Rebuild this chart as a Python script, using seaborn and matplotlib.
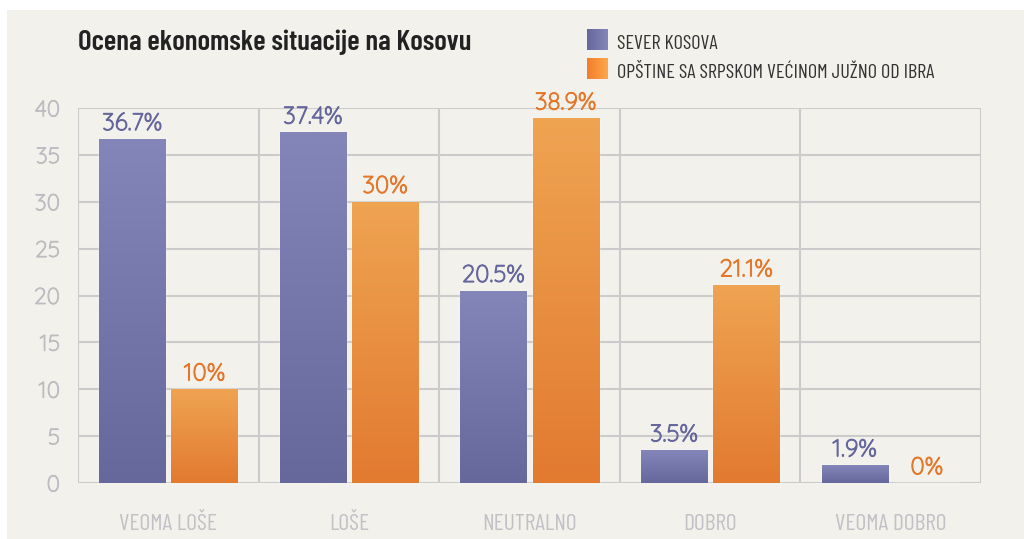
import numpy as np
import pandas as pd
import seaborn as sns
import matplotlib.pyplot as plt
import matplotlib.patheffects as pe
from matplotlib.patches import Rectangle
from matplotlib.colors import LinearSegmentedColormap

# data
categories = ['VEOMA LOŠE', 'LOŠE', 'NEUTRALNO', 'DOBRO', 'VEOMA DOBRO']
series_names = ['SEVER KOSOVA', 'OPŠTINE SA SRPSKOM VEĆINOM JUŽNO OD IBRA']
sever = [36.7, 37.4, 20.5, 3.5, 1.9]
jug = [10, 30, 38.9, 21.1, 0]
sever_labels = ['36.7%', '37.4%', '20.5%', '3.5%', '1.9%']
jug_labels = ['10%', '30%', '38.9%', '21.1%', '0%']

df = pd.DataFrame({
    'kategorija': categories * 2,
    'serija': [series_names[0]] * 5 + [series_names[1]] * 5,
    'vrednost': sever + jug,
})

bg = '#f2f1ec'
purple_top, purple_bot = '#8486b9', '#66679a'
orange_top, orange_bot = '#efa452', '#e27a30'
purple_txt = '#65669c'
orange_txt = '#e3772a'
grid_col = '#cbcbcb'

sns.set_theme(style='white')
plt.rcParams['font.family'] = ['DejaVu Sans']
narrow = ['Barlow Condensed', 'DejaVu Sans']
rounded = ['Quicksand', 'Lato', 'DejaVu Sans']

fig = plt.figure(figsize=(10.24, 5.39), dpi=100, facecolor='white')
fig.patches.append(Rectangle((7 / 1024, 0), 1, 1 - 10 / 539, transform=fig.transFigure,
                             facecolor=bg, edgecolor='none', zorder=-10))
ax = fig.add_axes([78 / 1024, 1 - 483 / 539, (981 - 78) / 1024, (483 - 108) / 539])
ax.set_facecolor(bg)

sns.barplot(data=df, x='kategorija', y='vrednost', hue='serija', order=categories,
            hue_order=series_names, palette=[purple_top, orange_top], width=0.8,
            gap=0.085, legend=False, ax=ax, zorder=3)

ax.set_xlim(-0.5, 4.5)
ax.set_ylim(0, 40)

# vertical gradients on bars
grad = np.linspace(0, 1, 256).reshape(-1, 1)
cm_p = LinearSegmentedColormap.from_list('p', [purple_bot, purple_top])
cm_o = LinearSegmentedColormap.from_list('o', [orange_bot, orange_top])
bars = list(ax.patches)
for i, bar in enumerate(bars):
    cmap = cm_p if i < 5 else cm_o
    x0, y0 = bar.get_x(), bar.get_y()
    w, h = bar.get_width(), bar.get_height()
    if h <= 0:
        continue
    im = ax.imshow(grad, extent=(x0, x0 + w, y0, y0 + h), origin='lower', cmap=cmap,
                   aspect='auto', zorder=3.5)
    im.set_clip_path(bar)
ax.set_xlim(-0.5, 4.5)
ax.set_ylim(0, 40)

# value labels (slight stroke to get the medium weight of the original)
for i, bar in enumerate(bars):
    txt = (sever_labels + jug_labels)[i]
    col = purple_txt if i < 5 else orange_txt
    ax.text(bar.get_x() + bar.get_width() / 2, bar.get_height() + 0.4, txt,
            ha='center', va='bottom', fontsize=17.5, color=col, family=rounded, zorder=5,
            path_effects=[pe.withStroke(linewidth=0.7, foreground=col)])

# grid and axes styling
ax.set_yticks(range(0, 41, 5))
ax.set_xticks(range(5))
ax.set_xticks(np.arange(-0.5, 4.6, 1), minor=True)
ax.grid(axis='y', which='major', color=grid_col, lw=1.5, zorder=0)
ax.grid(axis='x', which='minor', color=grid_col, lw=1.5, zorder=0)
ax.set_axisbelow(True)
for s in ax.spines.values():
    s.set_visible(False)
ax.tick_params(axis='both', which='both', length=0)
ax.tick_params(axis='y', pad=13, labelsize=16.5, labelcolor='#bdbdc1')
ax.tick_params(axis='x', pad=22, labelsize=17, labelcolor='#c2c2c6')
for lab in ax.get_yticklabels():
    lab.set_family(rounded)
    lab.set_path_effects([pe.withStroke(linewidth=0.6, foreground='#bdbdc1')])
for lab in ax.get_xticklabels():
    lab.set_family(narrow)
ax.set_xlabel('')
ax.set_ylabel('')

# title
fig.text(78 / 1024, 1 - 50 / 539, 'Ocena ekonomske situacije na Kosovu', ha='left',
         va='baseline', fontsize=20.8, fontweight=600, color='#222222', family=narrow)

# legend with horizontal gradient squares
hgrad = np.linspace(0, 1, 64).reshape(1, -1)
leg_items = [(series_names[0], LinearSegmentedColormap.from_list('lp', [purple_bot, purple_top]), 29),
             (series_names[1], LinearSegmentedColormap.from_list('lo', ['#f47c2c', '#fca84a']), 58)]
for name, cmap, ytop in leg_items:
    lax = fig.add_axes([587 / 1024, 1 - (ytop + 21) / 539, 21 / 1024, 21 / 539])
    lax.imshow(hgrad, cmap=cmap, aspect='auto')
    lax.axis('off')
    fig.text(617 / 1024, 1 - (ytop + 20) / 539, name, ha='left', va='baseline',
             fontsize=14.5, color='#333333', family=narrow)

fig.savefig('out.png', dpi=100, facecolor='white')
